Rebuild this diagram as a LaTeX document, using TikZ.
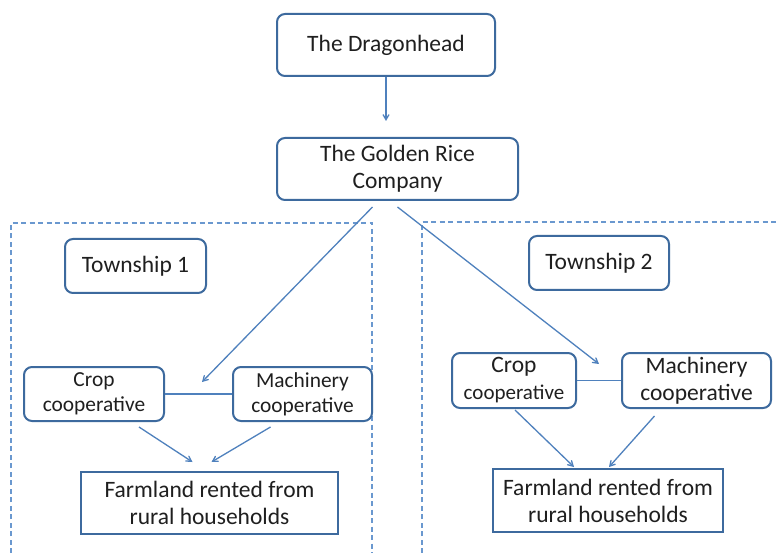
\documentclass[tikz,border=0pt]{standalone}
\usepackage{fontspec}
\setmainfont{Carlito}
\usetikzlibrary{arrows}
\definecolor{boxline}{HTML}{3D6A9E}
\definecolor{arrowline}{HTML}{4F81BD}
\definecolor{dashline}{HTML}{6A98CF}
\newcommand\colorBox{boxline}
\newcommand\colorArrow{arrowline}
\newcommand\colorArea{dashline}
\newcommand\textBig{\fontsize{23.5}{27}\selectfont}
\newcommand\textSmall{\fontsize{21.4}{25}\selectfont}
\newcommand\pageW{779}
\newcommand\pageH{553}
\tikzset{
	roundbox/.style={draw=\colorBox, line width=2pt, rounded corners=8pt, inner sep=0pt, align=center, text=black!88, font=\textBig},
	plainbox/.style={draw=\colorBox, line width=2pt, inner sep=0pt, align=center, text=black!88, font=\textBig},
	link/.style={draw=\colorArrow, line width=1.3pt, ->, >=angle 60},
	area/.style={draw=\colorArea, line width=1.2pt, dash pattern=on 5pt off 3.5pt}
}

\begin{document}
\begin{tikzpicture}[x=1pt, y=-1pt]
	\useasboundingbox[fill=white] (0,0) rectangle (\pageW,\pageH);
	
	\draw[area] (11,\pageH) to (11,223) to (372,223) to (372,\pageH);
	\draw[area] (422,\pageH) to (422,222) to (\pageW,222);
	
	\node[roundbox, minimum width=218pt, minimum height=62pt] (dragon) at (386,45) {The Dragonhead};
	\node[roundbox, minimum width=241pt, minimum height=62pt] (golden) at (397.5,169) {The Golden Rice\\Company};
	
	\node[roundbox, minimum width=141pt, minimum height=54pt] (town1) at (135.5,266) {Township 1};
	\node[roundbox, minimum width=140pt, minimum height=54pt] (town2) at (599,263) {Township 2};
	
	\node[roundbox, font=\textSmall, minimum width=140pt, minimum height=54pt] (crop1) at (94,394) {Crop\\cooperative};
	\node[roundbox, font=\textSmall, minimum width=139pt, minimum height=54pt] (mach1) at (302.5,394) {Machinery\\cooperative};
	\node[roundbox, minimum width=124pt, minimum height=55pt] (crop2) at (514,380.5) {Crop\\{\fontsize{21}{25}\selectfont cooperative}};
	\node[roundbox, minimum width=149pt, minimum height=55pt] (mach2) at (696.5,380.5) {Machinery\\cooperative};
	
	\node[plainbox, minimum width=257pt, minimum height=62pt] (farm1) at (209.5,503) {Farmland rented from\\rural households};
	\node[plainbox, minimum width=230pt, minimum height=63pt] (farm2) at (608,500.5) {Farmland rented from\\rural households};
	
	\coordinate (tip1) at (202,382);
	\coordinate (tip2) at (599,364);
	
	\draw[link, shorten >=16pt] (dragon.south) to (dragon.south |- golden.north);
	\draw[link] ([xshift=-25pt,yshift=-6pt]golden.south) to (tip1);
	\draw[link] ([xshift=0pt,yshift=-6pt]golden.south) to (tip2);
	
	\draw[draw=\colorArrow, line width=1.3pt] (crop1) to (mach1);
	\draw[draw=\colorArrow, line width=1.3pt] (crop2) to (mach2);
	
	\draw[link] ([xshift=45pt,yshift=-5pt]crop1.south) to ([xshift=-17pt,yshift=9pt]farm1.north);
	\draw[link] ([xshift=-32pt,yshift=-5pt]mach1.south) to ([xshift=2pt,yshift=9pt]farm1.north);
	\draw[link] ([xshift=1pt,yshift=-1pt]crop2.south) to ([xshift=-34pt,yshift=1pt]farm2.north);
	\draw[link] ([xshift=-42pt,yshift=-7pt]mach2.south) to ([xshift=1pt,yshift=1pt]farm2.north);
\end{tikzpicture}
\end{document}
